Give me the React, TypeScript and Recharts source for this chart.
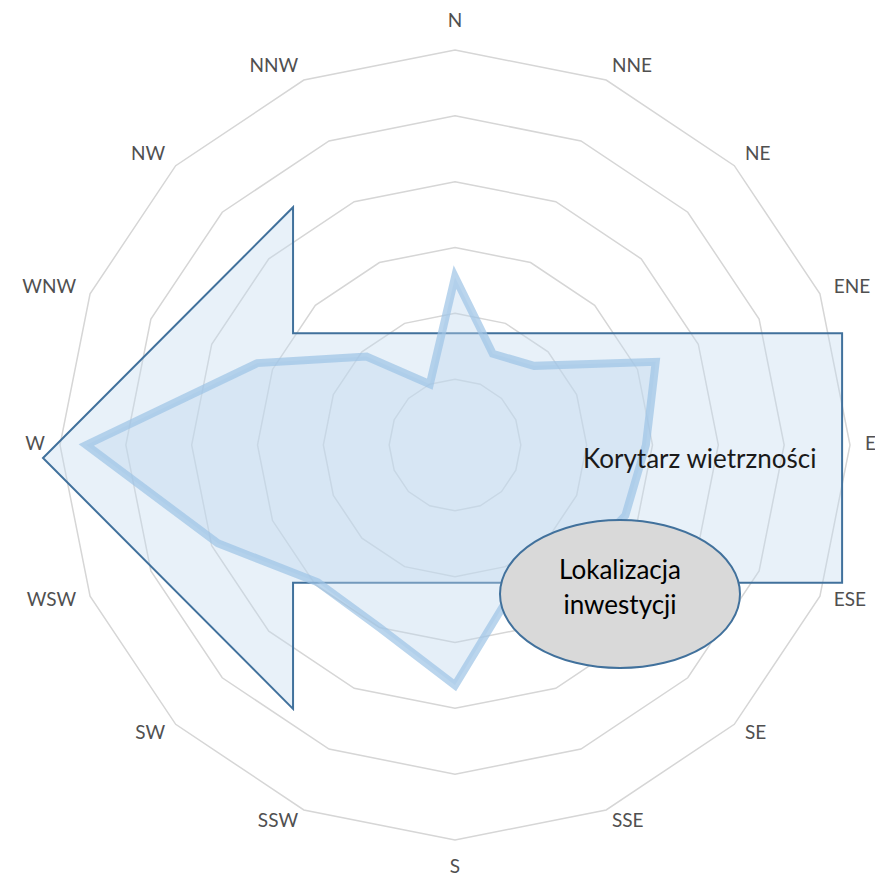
import { RadarChart, Radar, PolarGrid, PolarAngleAxis, PolarRadiusAxis, Customized } from 'recharts';

// wind directions, clockwise from north
const directions = ['N', 'NNE', 'NE', 'ENE', 'E', 'ESE', 'SE', 'SSE', 'S', 'SSW', 'SW', 'WSW', 'W', 'WNW', 'NW', 'NNW'];
// frequency of wind from each direction [%]
const frequency = [5.1, 3.0, 3.4, 6.6, 5.8, 5.6, 5.2, 4.7, 7.3, 6.0, 5.9, 7.8, 11.2, 6.5, 3.8, 2.0];
const radiusTicks = [0, 2, 4, 6, 8, 10, 12];

const corridorLabel = 'Korytarz wietrzności';
const siteLabel = ['Lokalizacja', 'inwestycji'];

const data = directions.map((dir, i) => ({ dir, value: frequency[i] }));

const W = 875;
const H = 882;
const CX = 455;
const CY = 445;
const R = 395;
const FONT = 'Lato, "Open Sans", sans-serif';

// Excel-like label placement: side labels anchored to the ring, top/bottom centred
const DirTick = ({ payload }: any) => {
  const i = directions.indexOf(payload.value);
  const a = (i * 22.5 * Math.PI) / 180;
  const s = Math.sin(a);
  const c = Math.cos(a);
  const side = Math.abs(s) > 0.1;
  const x = CX + 410 * s;
  const y = CY - 3 - 409 * c - (side ? 0 : Math.sign(c) * 14);
  return (
    <text
      x={x}
      y={y}
      textAnchor={!side ? 'middle' : s > 0 ? 'start' : 'end'}
      dominantBaseline="central"
      fill="#505050"
      fontSize={19}
      fontFamily={FONT}
    >
      {payload.value}
    </text>
  );
};

// wind corridor arrow, drawn under the rose line
const CorridorArrow = () => {
  const tipX = CX - 1.043 * R;
  const barbX = CX - 0.41 * R;
  const endX = CX + 0.98 * R;
  const midY = CY + 0.033 * R;
  const shaft = 0.316 * R;
  const barb = 0.635 * R;
  const pts = [
    [tipX, midY],
    [barbX, midY - barb],
    [barbX, midY - shaft],
    [endX, midY - shaft],
    [endX, midY + shaft],
    [barbX, midY + shaft],
    [barbX, midY + barb],
  ];
  return (
    <polygon
      points={pts.map((p) => p.join(',')).join(' ')}
      fill="#c6dcf1"
      fillOpacity={0.4}
      stroke="#41719c"
      strokeWidth={2}
    />
  );
};

// labels and site marker, on top of everything
const Annotations = () => (
  <svg width={W} height={H} style={{ position: 'absolute', left: 0, top: 0, pointerEvents: 'none' }}>
    <g fontFamily={FONT}>
      <text x={583} y={468} fontSize={26} fill="#1a1a1a">
        {corridorLabel}
      </text>
      <ellipse cx={620} cy={594} rx={120} ry={74} fill="#d9d9d9" stroke="#41719c" strokeWidth={2} />
      <text x={620} y={579} fontSize={26} fill="#000" textAnchor="middle">
        {siteLabel[0]}
      </text>
      <text x={620} y={614} fontSize={26} fill="#000" textAnchor="middle">
        {siteLabel[1]}
      </text>
    </g>
  </svg>
);

export default function App() {
  return (
    <div style={{ position: 'absolute', left: 0, top: 0, width: W, height: H }}>
      <RadarChart width={W} height={H} data={data} cx={CX} cy={CY} outerRadius={R} margin={{ top: 0, right: 0, bottom: 0, left: 0 }}>
        <PolarGrid radialLines={false} stroke="#d6d6d6" strokeWidth={1.5} />
        <PolarAngleAxis dataKey="dir" tick={<DirTick />} tickLine={false} axisLine={false} />
        <PolarRadiusAxis domain={[0, 12]} ticks={radiusTicks as any} tickCount={7} tick={false} axisLine={false} />
        <Customized component={CorridorArrow} />
        <Radar
          dataKey="value"
          stroke="#9dc3e6"
          strokeOpacity={0.7}
          strokeWidth={8}
          fill="#bdd7ee"
          fillOpacity={0.4}
          isAnimationActive={false}
        />
      </RadarChart>
      <Annotations />
    </div>
  );
}
